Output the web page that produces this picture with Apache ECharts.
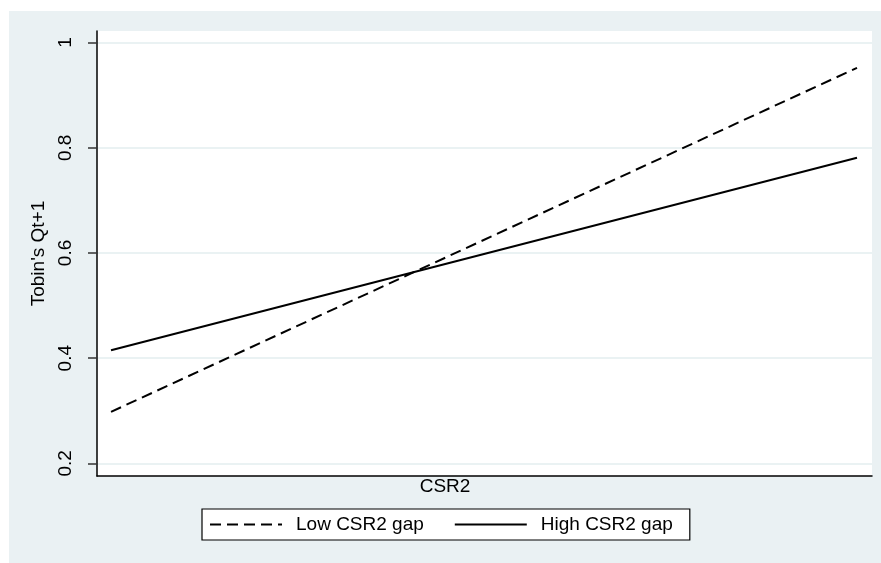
<!DOCTYPE html>
<html>
<head>
<meta charset="utf-8">
<script src="https://cdn.jsdelivr.net/npm/echarts@6/dist/echarts.min.js"></script>
<style>
html,body{margin:0;padding:0;background:#ffffff;}
#chart{position:absolute;left:9px;top:11px;width:872px;height:552px;}
</style>
</head>
<body>
<div id="chart"></div>
<script>
// Data
const xValues = [0, 1];                 // CSR2 low / high
const lowGap = [0.298, 0.952];          // Low CSR2 gap (dashed)
const highGap = [0.415, 0.781];         // High CSR2 gap (solid)
const yTicks = [0.2, 0.4, 0.6, 0.8, 1];
const seriesNames = ['Low CSR2 gap', 'High CSR2 gap'];

const FONT = '"Liberation Sans", Arial, sans-serif';
const chart = echarts.init(document.getElementById('chart'));
chart.setOption({
  backgroundColor: '#EAF1F3',
  animation: false,
  grid: {
    left: 88, right: 9, top: 20, bottom: 87,
    show: true, backgroundColor: '#ffffff', borderWidth: 0
  },
  xAxis: {
    type: 'value', min: -0.0188, max: 1.0201,
    name: 'CSR2', nameLocation: 'middle', nameGap: 1,
    nameTextStyle: { fontFamily: FONT, fontSize: 19, color: '#000', padding: [0, 79, 0, 0] },
    axisLine: { show: true, onZero: false, lineStyle: { color: '#000', width: 1.5 } },
    axisTick: { show: false }, axisLabel: { show: false }, splitLine: { show: false }
  },
  yAxis: {
    type: 'value', min: 0.176, max: 1.022,
    name: "Tobin's Qt+1", nameLocation: 'middle', nameGap: 49,
    nameTextStyle: { fontFamily: FONT, fontSize: 19, color: '#000' },
    axisLine: { show: true, onZero: false, lineStyle: { color: '#000', width: 1.5 } },
    axisTick: { show: true, length: 9, customValues: yTicks, lineStyle: { color: '#333', width: 1.5 } },
    axisLabel: { customValues: yTicks, rotate: 90, margin: 22, fontFamily: FONT, fontSize: 19, color: '#000',
      formatter: v => String(+v.toFixed(1)) },
    splitLine: { show: true, lineStyle: { color: '#EAF2F3', width: 2 } }
  },
  legend: {
    left: 193, top: 498, orient: 'horizontal',
    backgroundColor: '#ffffff', borderColor: '#000', borderWidth: 1.2, borderRadius: 0,
    padding: [6, 17, 6, 7], itemGap: 30, itemWidth: 72, itemHeight: 14,
    itemStyle: { color: 'transparent', borderWidth: 0, opacity: 0 },
    textStyle: { fontFamily: FONT, fontSize: 19, color: '#000', padding: [0, 0, 0, 9] },
    data: seriesNames
  },
  series: [
    { name: seriesNames[0], type: 'line', symbol: 'none', data: xValues.map((x, i) => [x, lowGap[i]]),
      lineStyle: { color: '#000', width: 2, type: [11, 6] }, itemStyle: { color: '#000' } },
    { name: seriesNames[1], type: 'line', symbol: 'none', data: xValues.map((x, i) => [x, highGap[i]]),
      lineStyle: { color: '#000', width: 2, type: 'solid' }, itemStyle: { color: '#000' } }
  ]
});
</script>
</body>
</html>
